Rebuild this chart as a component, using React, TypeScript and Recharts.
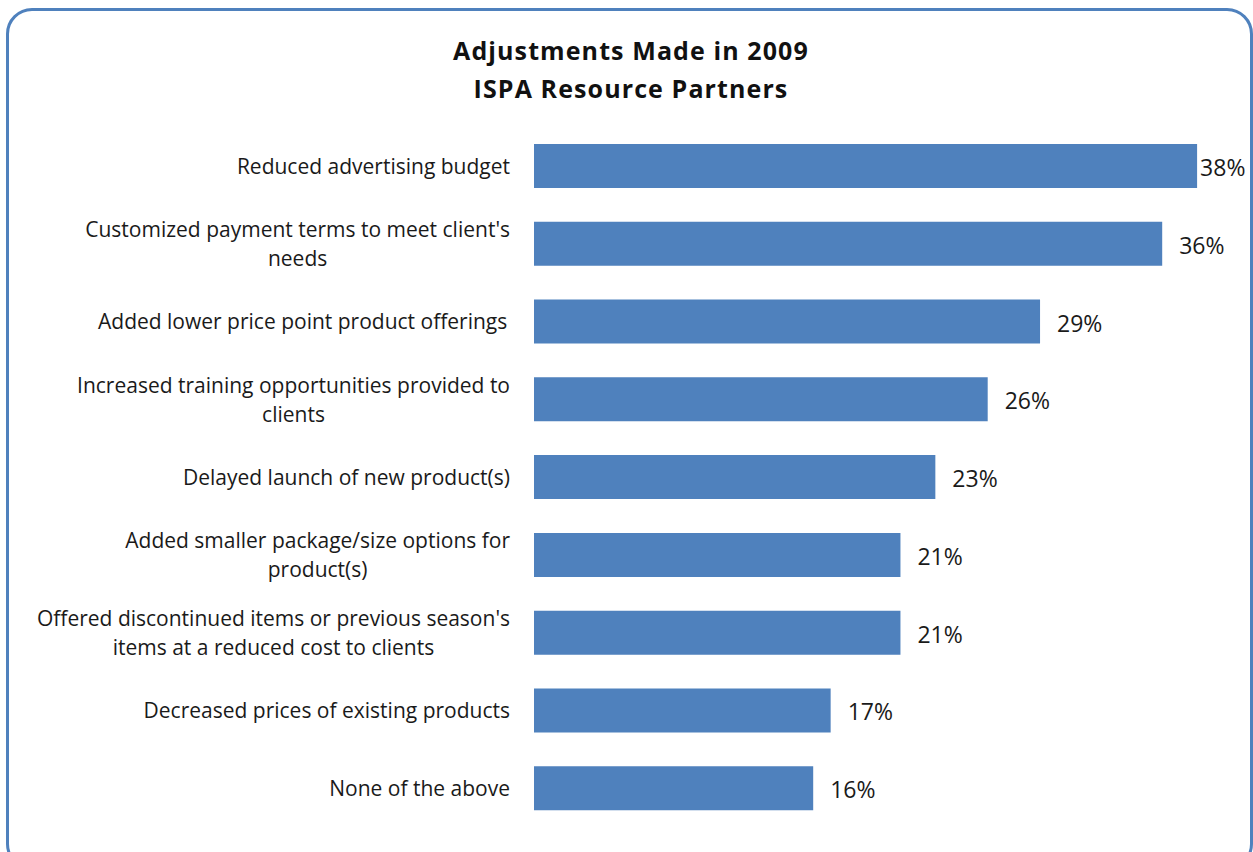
import { BarChart, Bar, XAxis, YAxis, LabelList } from "recharts";

const categories = [
  "Reduced advertising budget",
  "Customized payment terms to meet client's\nneeds",
  "Added lower price point product offerings ",
  "Increased training opportunities provided to\nclients",
  "Delayed launch of new product(s)",
  "Added smaller package/size options for\nproduct(s)",
  "Offered discontinued items or previous season's\nitems at a reduced cost to clients",
  "Decreased prices of existing products",
  "None of the above",
];
const values = [38, 36, 29, 26, 23, 21, 21, 17, 16];

const data = categories.map((name, i) => ({ name, value: values[i] }));

const FONT = "'Open Sans', Lato, sans-serif";
const LABEL_SIZE = 21;
const VALUE_SIZE = 23;
const CHART_W = 1253;

let ctx: CanvasRenderingContext2D | null = null;
function textWidth(s: string, size = LABEL_SIZE) {
  if (!ctx) ctx = document.createElement("canvas").getContext("2d");
  if (!ctx) return s.length * size * 0.5;
  ctx.font = `${size}px ${FONT}`;
  return ctx.measureText(s).width;
}

function CategoryTick(props: any) {
  const { x, y, payload } = props;
  const lines: string[] = String(payload.value).split("\n");
  const w = Math.max(...lines.map((l) => textWidth(l)));
  const cx = x - w / 2;
  const lh = 29;
  const y0 = y - ((lines.length - 1) * lh) / 2;
  return (
    <text
      textAnchor="middle"
      fontFamily={FONT}
      fontSize={LABEL_SIZE}
      fill="#1a1a1a"
      dominantBaseline="central"
    >
      {lines.map((l, i) => (
        <tspan key={i} x={cx} y={y0 + i * lh}>
          {l}
        </tspan>
      ))}
    </text>
  );
}

// value label to the right of the bar, pulled back in if it would run off the frame
function ValueLabel(props: any) {
  const { x, y, width, height, value } = props;
  const s = `${value}%`;
  const w = textWidth(s, VALUE_SIZE);
  let tx = x + width + 17;
  if (tx + w > CHART_W - 6) tx = x + width + 3;
  return (
    <text
      x={tx}
      y={y + height / 2 + 1}
      fontFamily={FONT}
      fontSize={VALUE_SIZE}
      fill="#1a1a1a"
      dominantBaseline="central"
    >
      {s}
    </text>
  );
}

export default function App() {
  return (
    <div
      style={{
        position: "absolute",
        left: 0,
        top: 0,
        width: 1253,
        height: 852,
        overflow: "hidden",
        background: "#fff",
      }}
    >
      <div
        style={{
          position: "absolute",
          left: 6,
          top: 8,
          width: 1241,
          height: 856,
          border: "3px solid #4F81BD",
          borderRadius: 26,
        }}
      />
      <div
        style={{
          position: "absolute",
          left: 0,
          top: 31,
          width: 1262,
          textAlign: "center",
          fontFamily: FONT,
          fontWeight: 700,
          fontSize: 25,
          letterSpacing: 1.1,
          lineHeight: "38px",
          color: "#111",
        }}
      >
        Adjustments Made in 2009
        <br />
        ISPA Resource Partners
      </div>
      <div style={{ position: "absolute", left: 0, top: 0 }}>
        <BarChart
          width={CHART_W}
          height={852}
          layout="vertical"
          data={data}
          margin={{ top: 127, right: 21, bottom: 25, left: 24 }}
        >
          <XAxis type="number" domain={[0, 40]} hide />
          <YAxis
            type="category"
            dataKey="name"
            width={510}
            axisLine={false}
            tickLine={false}
            tickMargin={18}
            interval={0}
            tick={<CategoryTick />}
          />
          <Bar dataKey="value" fill="#4F81BD" barSize={44} isAnimationActive={false}>
            <LabelList dataKey="value" content={<ValueLabel />} />
          </Bar>
        </BarChart>
      </div>
    </div>
  );
}
